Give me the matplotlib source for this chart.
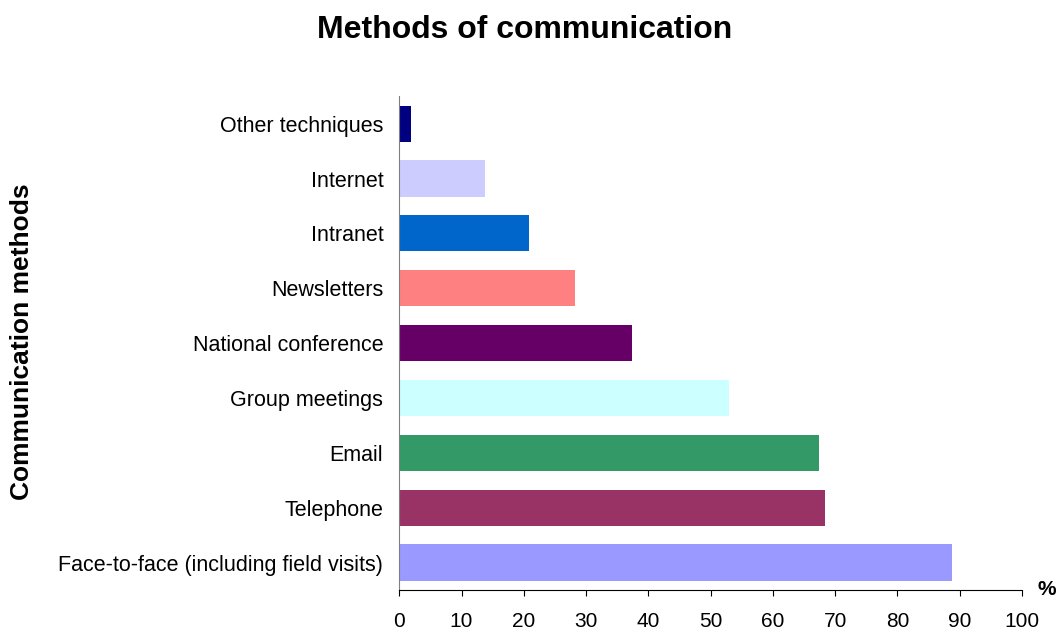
import matplotlib.pyplot as plt

plt.rcParams['font.family'] = ['Liberation Sans', 'DejaVu Sans']

methods = [
    "Face-to-face (including field visits)",
    "Telephone",
    "Email",
    "Group meetings",
    "National conference",
    "Newsletters",
    "Intranet",
    "Internet",
    "Other techniques",
]
percent = [88.8, 68.3, 67.4, 52.9, 37.3, 28.2, 20.8, 13.8, 1.9]
bar_colors = ["#9999FF", "#993366", "#339966", "#CCFFFF", "#660066",
              "#FF8080", "#0066CC", "#CCCCFF", "#000080"]

fig = plt.figure(figsize=(10.59, 6.29), dpi=100)
ax = fig.add_axes([0.377, 0.062, 0.588, 0.785])

ax.barh(range(len(methods)), percent, height=0.66, color=bar_colors)
ax.set_xlim(0, 100)
ax.set_ylim(-0.5, len(methods) - 0.5)
ax.set_xticks(range(0, 101, 10))
ax.set_yticks(range(len(methods)))
ax.set_yticklabels(methods)

ax.spines['top'].set_visible(False)
ax.spines['right'].set_visible(False)
ax.spines['left'].set_color('#808080')
ax.spines['bottom'].set_color('black')
ax.tick_params(axis='y', length=0, pad=11.5, labelsize=15.5)
ax.tick_params(axis='x', length=4, direction='out', pad=11.5, labelsize=15)

fig.text(22 / 1059, 0.456, "Communication methods", rotation=90, ha='center',
         va='center', fontsize=19, fontweight='bold')
fig.text(0.495, 0.952, "Methods of communication", ha='center', va='center',
         fontsize=23, fontweight='bold')
fig.text(0.988, 0.063, "%", ha='center', va='center', fontsize=15, fontweight='bold')

fig.savefig("out.png", dpi=100)
